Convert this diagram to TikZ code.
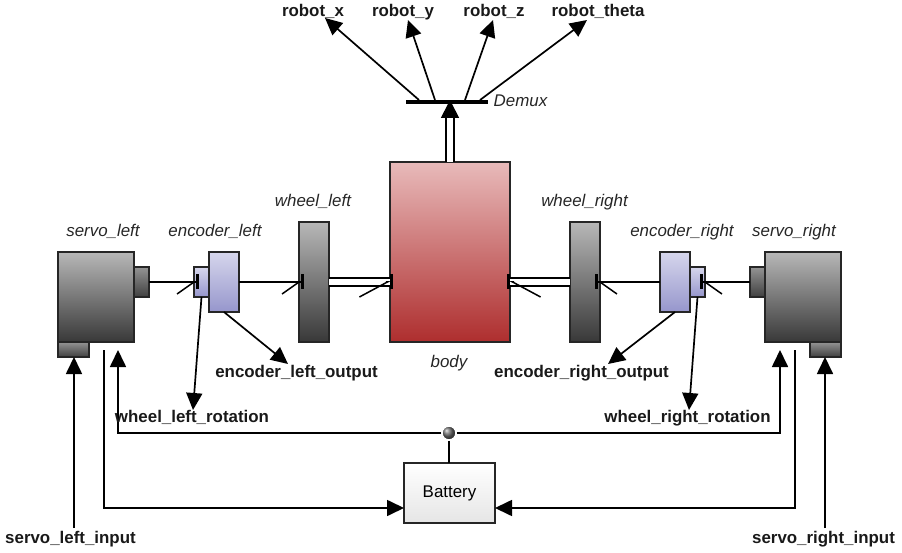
\documentclass[tikz,border=0pt]{standalone}
\usepackage{fontspec}
\setmainfont{Liberation Sans}
\usetikzlibrary{arrows.meta,calc}
\tikzset{
  block/.style={draw=black!85,line width=1.6pt,inner sep=0pt,outer sep=0pt,anchor=north west},
  darkblock/.style={block,top color=black!28,bottom color=black!78},
  shaftblock/.style={block,top color=black!42,bottom color=black!75},
  encblock/.style={block,top color={rgb,255:red,214;green,214;blue,236},bottom color={rgb,255:red,150;green,150;blue,204}},
  sig/.style={font=\bfseries\fontsize{16.9}{18}\selectfont,text=black!90,inner sep=0pt,text height=12.5pt,text depth=3.6pt},
  blockname/.style={font=\itshape\fontsize{16.9}{18}\selectfont,text=black!85,inner sep=0pt,text height=12.5pt,text depth=3.6pt},
  wire/.style={draw=black,line width=1.7pt},
  sigarrow/.style={wire,-{Triangle[length=17pt,width=16pt]}},
  inleft/.style={wire,shorten >=-5pt,-{Straight Barb[length=17pt,width=24pt,harpoon,swap,line width=1.5pt]Rectangle[length=2.6pt,width=15pt,sep=0pt]}},
  inright/.style={wire,shorten >=-5pt,-{Straight Barb[length=17pt,width=24pt,harpoon,line width=1.5pt]Rectangle[length=2.6pt,width=15pt,sep=0pt]}},
  doubleleft/.style={draw=black,line width=1.6pt,double=white,double distance=6pt,shorten >=-3pt,-{Straight Barb[length=28pt,width=30pt,harpoon,swap,line width=1.5pt]Rectangle[length=2.6pt,width=15pt,sep=0pt]}},
  doubleright/.style={draw=black,line width=1.6pt,double=white,double distance=6pt,shorten >=-3pt,-{Straight Barb[length=28pt,width=30pt,harpoon,line width=1.5pt]Rectangle[length=2.6pt,width=15pt,sep=0pt]}},
  doublewire/.style={draw=black,line width=1.6pt,double=white,double distance=6pt},
}
\begin{document}
\begin{tikzpicture}[x=1pt,y=1pt,yscale=-1,xscale=1]
\useasboundingbox (0,0) rectangle (902,553);

% Left side blocks
\node [darkblock,minimum width=76pt,minimum height=90pt] (servoleft) at (58,252) {};
\node [shaftblock,minimum width=15pt,minimum height=30pt] (shaftleft) at (134,267) {};
\node [shaftblock,minimum width=31pt,minimum height=15pt] (portleft) at (58,342) {};
\node [encblock,minimum width=15pt,minimum height=30pt] (diskleft) at (194,267) {};
\node [encblock,minimum width=30pt,minimum height=60pt] (encoderleft) at (209,252) {};
\node [darkblock,minimum width=30pt,minimum height=120pt] (wheelleft) at (299,222) {};

% Body
\node [block,top color={rgb,255:red,232;green,186;blue,186},bottom color={rgb,255:red,174;green,46;blue,46},minimum width=120pt,minimum height=180pt] (body) at (390,162) {};

% Right side blocks
\node [darkblock,minimum width=30pt,minimum height=120pt] (wheelright) at (570,222) {};
\node [encblock,minimum width=30pt,minimum height=60pt] (encoderright) at (660,252) {};
\node [encblock,minimum width=15pt,minimum height=30pt] (diskright) at (690,267) {};
\node [shaftblock,minimum width=15pt,minimum height=30pt] (shaftright) at (750,267) {};
\node [darkblock,minimum width=76pt,minimum height=90pt] (servoright) at (765,252) {};
\node [shaftblock,minimum width=31pt,minimum height=15pt] (portright) at (810,342) {};

% Battery and Demux
\node [block,top color=white,bottom color=black!10,minimum width=91pt,minimum height=60pt,font=\fontsize{16.9}{18}\selectfont] (battery) at (404,463) {Battery};
\node [fill=black,inner sep=0pt,minimum width=82pt,minimum height=4pt] (demux) at (447,102) {};
\node [circle,ball color=black!60,draw=white,line width=1.5pt,inner sep=0pt,minimum size=14pt] (junction) at (449,433) {};

% Free ends
\coordinate (demuxx) at (419,100);
\coordinate (demuxy) at (435,100);
\coordinate (demuxz) at (465,100);
\coordinate (demuxtheta) at (480,100);
\coordinate (endx) at (325,18);
\coordinate (endy) at (408,20);
\coordinate (endz) at (493,20);
\coordinate (endtheta) at (587,20);
\coordinate (endencleft) at (288,364);
\coordinate (endrotleft) at (193,410);
\coordinate (endencright) at (608,364);
\coordinate (endrotright) at (689,410);
\coordinate (startinleft) at (74,528);
\coordinate (startinright) at (825,528);
\coordinate (gndleft) at (104,350);
\coordinate (gndright) at (795,350);
\coordinate (powerleft) at (118,350);
\coordinate (powerright) at (780,350);
\coordinate (batteryleft) at (404,508);
\coordinate (batteryright) at (495,508);
\coordinate (demuxin) at (450,116);
\coordinate (demuxtip) at (450,100);

%Shafts
\draw [inleft] (shaftleft.east) -- (diskleft.west);
\draw [inleft] (encoderleft.east) -- (wheelleft.west);
\draw [inright] (shaftright.west) -- (diskright.east);
\draw [inright] (encoderright.west) -- (wheelright.east);
\draw [doubleleft] (wheelleft.east) -- (wheelleft.east -| body.west);
\draw [doubleright] (wheelright.west) -- (wheelright.west -| body.east);

%Demux
\draw [doublewire] (demuxin |- body.north) -- (demuxin);
\draw [wire,-{Triangle[length=18pt,width=18pt]}] (demuxin) -- (demuxtip);
\draw [sigarrow] (demuxx) -- (endx);
\draw [sigarrow] (demuxy) -- (endy);
\draw [sigarrow] (demuxz) -- (endz);
\draw [sigarrow] (demuxtheta) -- (endtheta);

%Signals
\draw [sigarrow] (encoderleft.south) -- (endencleft);
\draw [sigarrow] (diskleft.south) -- (endrotleft);
\draw [sigarrow] (encoderright.south) -- (endencright);
\draw [sigarrow] (diskright.south) -- (endrotright);
\draw [sigarrow] (startinleft) -- (startinleft |- portleft.south);
\draw [sigarrow] (startinright) -- (startinright |- portright.south);

%Power
\draw [sigarrow] (gndleft) |- (batteryleft);
\draw [sigarrow] (gndright) |- (batteryright);
\draw [sigarrow] (junction.west) -| (powerleft);
\draw [sigarrow] (junction.east) -| (powerright);
\draw [wire] (junction.south) -- (junction.south |- battery.north);

% Text Node
\node [sig] (robotx) at (313,12.2) {robot\_x};
\node [sig] (roboty) at (403,12.2) {robot\_y};
\node [sig] (robotz) at (494,12.2) {robot\_z};
\node [sig] (robottheta) at (598,12.2) {robot\_theta};
\node [sig] (outleft) at (296.5,373.5) {encoder\_left\_output};
\node [sig] (outright) at (581.5,373.5) {encoder\_right\_output};
\node [sig] (rotleft) at (192,418.2) {wheel\_left\_rotation};
\node [sig] (rotright) at (687.5,418.2) {wheel\_right\_rotation};
\node [sig] (inputleft) at (70.5,538.9) {servo\_left\_input};
\node [sig] (inputright) at (823.5,538.9) {servo\_right\_input};
% Text Node
\node [blockname] (nameservoleft) at (103,232.2) {servo\_left};
\node [blockname] (nameencoderleft) at (215,232.2) {encoder\_left};
\node [blockname] (namewheelleft) at (313,202.2) {wheel\_left};
\node [blockname] (namebody) at (449,363) {body};
\node [blockname] (namewheelright) at (584.5,202.2) {wheel\_right};
\node [blockname] (nameencoderright) at (682,232.2) {encoder\_right};
\node [blockname] (nameservoright) at (794,232.2) {servo\_right};
\node [blockname] (namedemux) at (520.5,102.2) {Demux};

\end{tikzpicture}
\end{document}
